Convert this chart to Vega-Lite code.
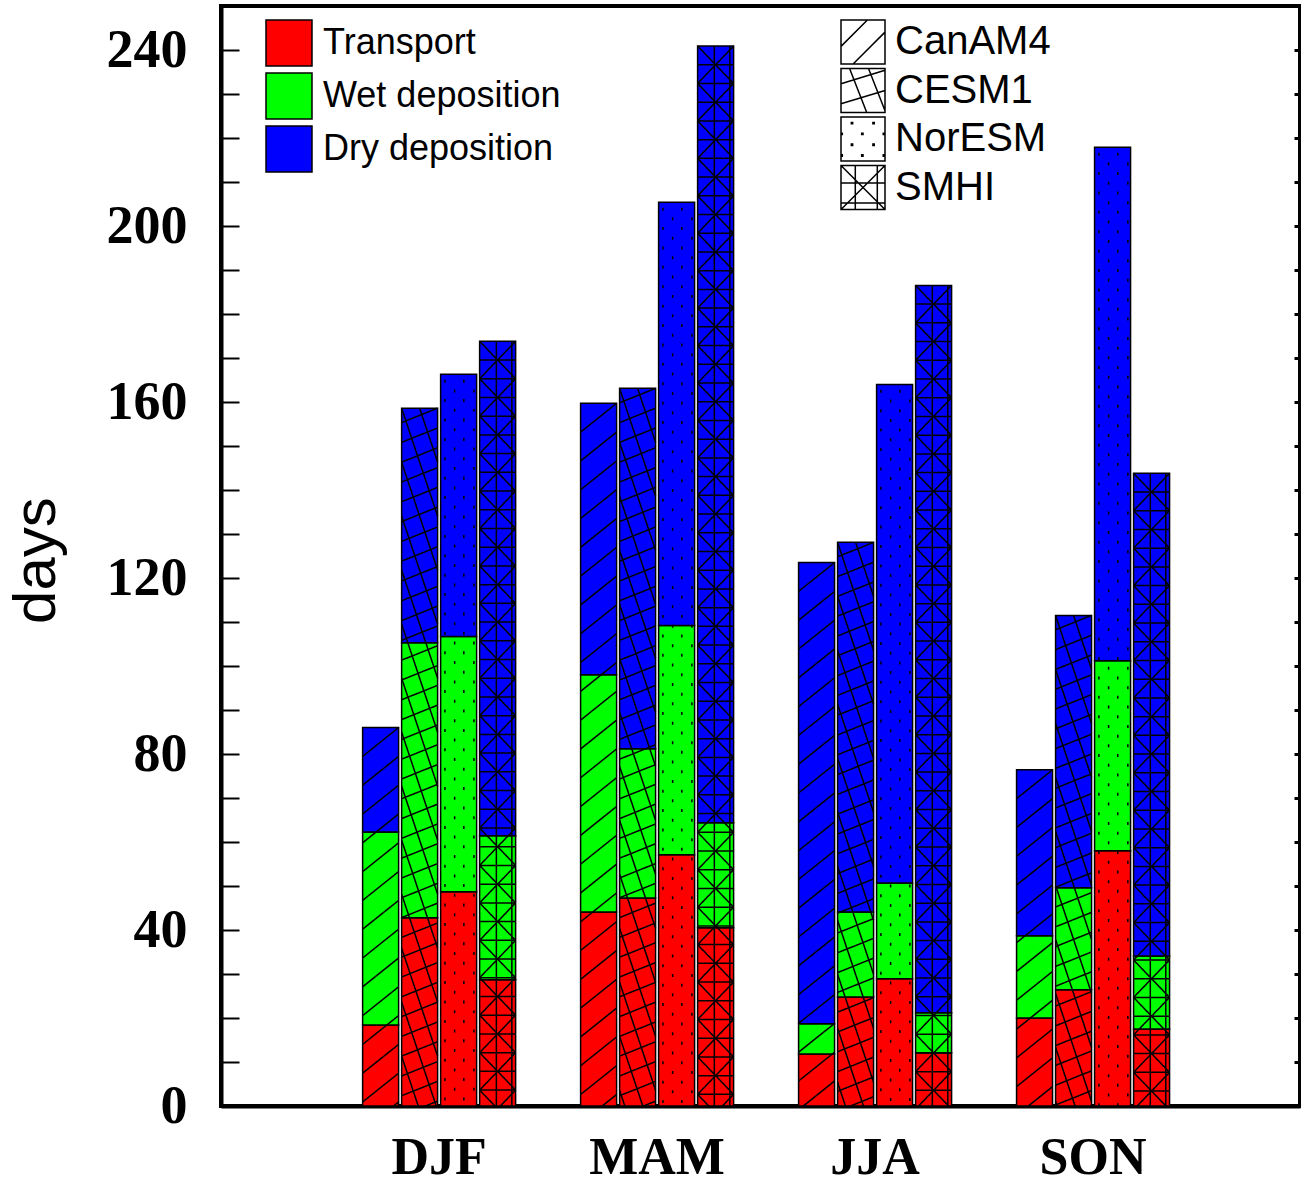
{
  "$schema": "https://vega.github.io/schema/vega-lite/v6.json",
  "autosize": "none",
  "width": 1079,
  "height": 1100,
  "padding": {"left": 221, "top": 6, "right": 1, "bottom": 82},
  "background": "white",
  "config": {
    "view": {"stroke": "black", "strokeWidth": 4},
    "axisX": {
      "title": null,
      "ticks": false,
      "domainColor": "black",
      "domainWidth": 4,
      "labelAngle": 0,
      "labelFont": "Liberation Serif",
      "labelFontWeight": "bold",
      "labelFontSize": 52,
      "labelColor": "black",
      "labelPadding": 26,
      "grid": false
    }
  },
  "data": {
    "values": [
      {"season": "DJF", "model": "CanAM4", "component": "Transport", "level": 1, "days": 18.4},
      {"season": "DJF", "model": "CanAM4", "component": "Wet deposition", "level": 2, "days": 43.9},
      {"season": "DJF", "model": "CanAM4", "component": "Dry deposition", "level": 3, "days": 23.7},
      {"season": "DJF", "model": "CESM1", "component": "Transport", "level": 1, "days": 42.8},
      {"season": "DJF", "model": "CESM1", "component": "Wet deposition", "level": 2, "days": 62.5},
      {"season": "DJF", "model": "CESM1", "component": "Dry deposition", "level": 3, "days": 53.3},
      {"season": "DJF", "model": "NorESM", "component": "Transport", "level": 1, "days": 48.7},
      {"season": "DJF", "model": "NorESM", "component": "Wet deposition", "level": 2, "days": 58.0},
      {"season": "DJF", "model": "NorESM", "component": "Dry deposition", "level": 3, "days": 59.6},
      {"season": "DJF", "model": "SMHI", "component": "Transport", "level": 1, "days": 28.7},
      {"season": "DJF", "model": "SMHI", "component": "Wet deposition", "level": 2, "days": 32.7},
      {"season": "DJF", "model": "SMHI", "component": "Dry deposition", "level": 3, "days": 112.4},
      {"season": "MAM", "model": "CanAM4", "component": "Transport", "level": 1, "days": 44.1},
      {"season": "MAM", "model": "CanAM4", "component": "Wet deposition", "level": 2, "days": 53.9},
      {"season": "MAM", "model": "CanAM4", "component": "Dry deposition", "level": 3, "days": 61.7},
      {"season": "MAM", "model": "CESM1", "component": "Transport", "level": 1, "days": 47.3},
      {"season": "MAM", "model": "CESM1", "component": "Wet deposition", "level": 2, "days": 33.9},
      {"season": "MAM", "model": "CESM1", "component": "Dry deposition", "level": 3, "days": 81.9},
      {"season": "MAM", "model": "NorESM", "component": "Transport", "level": 1, "days": 57.1},
      {"season": "MAM", "model": "NorESM", "component": "Wet deposition", "level": 2, "days": 52.1},
      {"season": "MAM", "model": "NorESM", "component": "Dry deposition", "level": 3, "days": 96.2},
      {"season": "MAM", "model": "SMHI", "component": "Transport", "level": 1, "days": 40.5},
      {"season": "MAM", "model": "SMHI", "component": "Wet deposition", "level": 2, "days": 23.9},
      {"season": "MAM", "model": "SMHI", "component": "Dry deposition", "level": 3, "days": 176.5},
      {"season": "JJA", "model": "CanAM4", "component": "Transport", "level": 1, "days": 11.8},
      {"season": "JJA", "model": "CanAM4", "component": "Wet deposition", "level": 2, "days": 6.9},
      {"season": "JJA", "model": "CanAM4", "component": "Dry deposition", "level": 3, "days": 104.8},
      {"season": "JJA", "model": "CESM1", "component": "Transport", "level": 1, "days": 24.8},
      {"season": "JJA", "model": "CESM1", "component": "Wet deposition", "level": 2, "days": 19.3},
      {"season": "JJA", "model": "CESM1", "component": "Dry deposition", "level": 3, "days": 84.0},
      {"season": "JJA", "model": "NorESM", "component": "Transport", "level": 1, "days": 28.9},
      {"season": "JJA", "model": "NorESM", "component": "Wet deposition", "level": 2, "days": 21.8},
      {"season": "JJA", "model": "NorESM", "component": "Dry deposition", "level": 3, "days": 113.3},
      {"season": "JJA", "model": "SMHI", "component": "Transport", "level": 1, "days": 12.1},
      {"season": "JJA", "model": "SMHI", "component": "Wet deposition", "level": 2, "days": 9.1},
      {"season": "JJA", "model": "SMHI", "component": "Dry deposition", "level": 3, "days": 165.3},
      {"season": "SON", "model": "CanAM4", "component": "Transport", "level": 1, "days": 20.0},
      {"season": "SON", "model": "CanAM4", "component": "Wet deposition", "level": 2, "days": 18.7},
      {"season": "SON", "model": "CanAM4", "component": "Dry deposition", "level": 3, "days": 37.7},
      {"season": "SON", "model": "CESM1", "component": "Transport", "level": 1, "days": 26.4},
      {"season": "SON", "model": "CESM1", "component": "Wet deposition", "level": 2, "days": 23.2},
      {"season": "SON", "model": "CESM1", "component": "Dry deposition", "level": 3, "days": 61.9},
      {"season": "SON", "model": "NorESM", "component": "Transport", "level": 1, "days": 58.0},
      {"season": "SON", "model": "NorESM", "component": "Wet deposition", "level": 2, "days": 43.2},
      {"season": "SON", "model": "NorESM", "component": "Dry deposition", "level": 3, "days": 116.7},
      {"season": "SON", "model": "SMHI", "component": "Transport", "level": 1, "days": 17.5},
      {"season": "SON", "model": "SMHI", "component": "Wet deposition", "level": 2, "days": 16.6},
      {"season": "SON", "model": "SMHI", "component": "Dry deposition", "level": 3, "days": 109.7}
    ]
  },
  "layer": [
    {
      "mark": {"type": "bar", "stroke": "black", "strokeWidth": 1.5},
      "encoding": {
        "x": {"field": "season", "type": "nominal", "sort": ["DJF", "MAM", "JJA", "SON"],
              "scale": {"paddingInner": 0, "paddingOuter": 0.475, "align": 0.527}},
        "xOffset": {"field": "model", "type": "nominal", "sort": ["CanAM4", "CESM1", "NorESM", "SMHI"],
                    "scale": {"paddingInner": 0.077, "paddingOuter": 0.833}},
        "y": {"field": "days", "type": "quantitative", "stack": "zero",
              "scale": {"domain": [0, 250], "nice": false},
              "axis": {
                "title": "days",
                "values": [0, 10, 20, 30, 40, 50, 60, 70, 80, 90, 100, 110, 120, 130, 140, 150, 160, 170, 180, 190, 200, 210, 220, 230, 240],
                "labelExpr": "datum.value % 40 === 0 ? datum.label : ''",
                "grid": false,
                "tickSize": -18,
                "tickWidth": 2,
                "tickColor": "black",
                "domainColor": "black",
                "domainWidth": 4,
                "labelFont": "Liberation Serif",
                "labelFontWeight": "bold",
                "labelFontSize": 54,
                "labelColor": "black",
                "labelPadding": 52,
                "titleFont": "Liberation Sans",
                "titleFontWeight": "normal",
                "titleFontSize": 60,
                "titleColor": "black",
                "titleAngle": -90,
                "titleAlign": "center",
                "titleBaseline": "alphabetic",
                "titleX": -167,
                "titleY": 554
              }},
        "color": {"field": "component", "type": "nominal",
                  "scale": {"domain": ["Transport", "Wet deposition", "Dry deposition"], "range": ["#ff0000", "#00ff00", "#0000ff"]},
                  "legend": {
                    "title": null,
                    "orient": "none",
                    "legendX": 44,
                    "legendY": 13,
                    "symbolType": "square",
                    "symbolSize": 2116,
                    "symbolStrokeColor": "black",
                    "symbolStrokeWidth": 1.5,
                    "symbolOpacity": 1,
                    "labelFont": "Liberation Sans",
                    "labelFontSize": 36,
                    "labelColor": "black",
                    "labelOffset": 10,
                    "rowPadding": 1,
                    "labelLimit": 400
                  }},
        "order": {"field": "level", "type": "quantitative"}
      }
    },
    {
      "mark": {"type": "point", "filled": false, "clip": true, "size": 1296, "stroke": "black", "opacity": 1},
      "encoding": {
        "x": {"field": "season", "type": "nominal", "sort": ["DJF", "MAM", "JJA", "SON"],
              "scale": {"paddingInner": 0, "paddingOuter": 0.475, "align": 0.527}},
        "xOffset": {"field": "model", "type": "nominal", "sort": ["CanAM4", "CESM1", "NorESM", "SMHI"],
                    "scale": {"paddingInner": 0.077, "paddingOuter": 0.833}},
        "y": {"aggregate": "sum", "field": "days", "type": "quantitative",
              "scale": {"domain": [0, 250], "nice": false}, "axis": null},
        "strokeWidth": {"field": "model", "type": "nominal",
                        "scale": {"domain": ["CanAM4", "CESM1", "NorESM", "SMHI"], "range": [1.5, 1.5, 3.5, 2]},
                        "legend": null},
        "strokeDash": {"field": "model", "type": "nominal",
                       "scale": {"domain": ["CanAM4", "CESM1", "NorESM", "SMHI"], "range": [[1, 0], [1, 0], [3, 16.4], [1, 0]]},
                       "legend": null},
        "shape": {"field": "model", "type": "nominal", "legend": null,
                  "scale": {
                    "domain": ["CanAM4", "CESM1", "NorESM", "SMHI"],
                    "range": [
                      "M-1,1.6l2,-1.6m-2,3.2l2,-1.6m-2,3.2l2,-1.6m-2,3.2l2,-1.6m-2,3.2l2,-1.6m-2,3.2l2,-1.6m-2,3.2l2,-1.6m-2,3.2l2,-1.6m-2,3.2l2,-1.6m-2,3.2l2,-1.6m-2,3.2l2,-1.6m-2,3.2l2,-1.6m-2,3.2l2,-1.6m-2,3.2l2,-1.6m-2,3.2l2,-1.6m-2,3.2l2,-1.6m-2,3.2l2,-1.6m-2,3.2l2,-1.6m-2,3.2l2,-1.6m-2,3.2l2,-1.6m-2,3.2l2,-1.6m-2,3.2l2,-1.6m-2,3.2l2,-1.6m-2,3.2l2,-1.6m-2,3.2l2,-1.6m-2,3.2l2,-1.6m-2,3.2l2,-1.6m-2,3.2l2,-1.6m-2,3.2l2,-1.6m-2,3.2l2,-1.6m-2,3.2l2,-1.6m-2,3.2l2,-1.6m-2,3.2l2,-1.6m-2,3.2l2,-1.6m-2,3.2l2,-1.6m-2,3.2l2,-1.6m-2,3.2l2,-1.6m-2,3.2l2,-1.6",
                      "M-1,0.8l2,-0.8m-2,1.9l2,-0.8m-2,1.9l2,-0.8m-2,1.9l2,-0.8m-2,1.9l2,-0.8m-2,1.9l2,-0.8m-2,1.9l2,-0.8m-2,1.9l2,-0.8m-2,1.9l2,-0.8m-2,1.9l2,-0.8m-2,1.9l2,-0.8m-2,1.9l2,-0.8m-2,1.9l2,-0.8m-2,1.9l2,-0.8m-2,1.9l2,-0.8m-2,1.9l2,-0.8m-2,1.9l2,-0.8m-2,1.9l2,-0.8m-2,1.9l2,-0.8m-2,1.9l2,-0.8m-2,1.9l2,-0.8m-2,1.9l2,-0.8m-2,1.9l2,-0.8m-2,1.9l2,-0.8m-2,1.9l2,-0.8m-2,1.9l2,-0.8m-2,1.9l2,-0.8m-2,1.9l2,-0.8m-2,1.9l2,-0.8m-2,1.9l2,-0.8m-2,1.9l2,-0.8m-2,1.9l2,-0.8m-2,1.9l2,-0.8m-2,1.9l2,-0.8m-2,1.9l2,-0.8m-2,1.9l2,-0.8m-2,1.9l2,-0.8m-2,1.9l2,-0.8m-2,1.9l2,-0.8m-2,1.9l2,-0.8m-2,1.9l2,-0.8m-2,1.9l2,-0.8m-2,1.9l2,-0.8m-2,1.9l2,-0.8m-2,1.9l2,-0.8m-2,1.9l2,-0.8m-2,1.9l2,-0.8m-2,1.9l2,-0.8m-2,1.9l2,-0.8m-2,1.9l2,-0.8m-2,1.9l2,-0.8m-2,1.9l2,-0.8m-2,1.9l2,-0.8m-2,1.9l2,-0.8m-2,1.9l2,-0.8M0,0L1,3M-1,0l2,6m-2,-3l2,6m-2,-3l2,6m-2,-3l2,6m-2,-3l2,6m-2,-3l2,6m-2,-3l2,6m-2,-3l2,6m-2,-3l2,6m-2,-3l2,6m-2,-3l2,6m-2,-3l2,6m-2,-3l2,6m-2,-3l2,6m-2,-3l2,6m-2,-3l2,6m-2,-3l2,6m-2,-3l2,6m-2,-3l2,6m-2,-3l2,6m-2,-3l2,6",
                      "M-0.76,0.3V62M0.29,0.3V62M-0.22,0.84V62M0.85,0.84V62",
                      "M-0.07,0V61M0.79,0V61M-1,1.04h2m-2,1.04h2m-2,1.04h2m-2,1.04h2m-2,1.04h2m-2,1.04h2m-2,1.04h2m-2,1.04h2m-2,1.04h2m-2,1.04h2m-2,1.04h2m-2,1.04h2m-2,1.04h2m-2,1.04h2m-2,1.04h2m-2,1.04h2m-2,1.04h2m-2,1.04h2m-2,1.04h2m-2,1.04h2m-2,1.04h2m-2,1.04h2m-2,1.04h2m-2,1.04h2m-2,1.04h2m-2,1.04h2m-2,1.04h2m-2,1.04h2m-2,1.04h2m-2,1.04h2m-2,1.04h2m-2,1.04h2m-2,1.04h2m-2,1.04h2m-2,1.04h2m-2,1.04h2m-2,1.04h2m-2,1.04h2m-2,1.04h2m-2,1.04h2m-2,1.04h2m-2,1.04h2m-2,1.04h2m-2,1.04h2m-2,1.04h2m-2,1.04h2m-2,1.04h2m-2,1.04h2m-2,1.04h2m-2,1.04h2m-2,1.04h2m-2,1.04h2m-2,1.04h2m-2,1.04h2m-2,1.04h2m-2,1.04h2m-2,1.04h2m-2,1.04h2M-1,0l2,2.08m-2,0l2,2.08m-2,0l2,2.08m-2,0l2,2.08m-2,0l2,2.08m-2,0l2,2.08m-2,0l2,2.08m-2,0l2,2.08m-2,0l2,2.08m-2,0l2,2.08m-2,0l2,2.08m-2,0l2,2.08m-2,0l2,2.08m-2,0l2,2.08m-2,0l2,2.08m-2,0l2,2.08m-2,0l2,2.08m-2,0l2,2.08m-2,0l2,2.08m-2,0l2,2.08m-2,0l2,2.08m-2,0l2,2.08m-2,0l2,2.08m-2,0l2,2.08m-2,0l2,2.08m-2,0l2,2.08m-2,0l2,2.08m-2,0l2,2.08m-2,0l2,2.08m-2,0l2,2.08M-1,2.08l2,-2.08m-2,4.16l2,-2.08m-2,4.16l2,-2.08m-2,4.16l2,-2.08m-2,4.16l2,-2.08m-2,4.16l2,-2.08m-2,4.16l2,-2.08m-2,4.16l2,-2.08m-2,4.16l2,-2.08m-2,4.16l2,-2.08m-2,4.16l2,-2.08m-2,4.16l2,-2.08m-2,4.16l2,-2.08m-2,4.16l2,-2.08m-2,4.16l2,-2.08m-2,4.16l2,-2.08m-2,4.16l2,-2.08m-2,4.16l2,-2.08m-2,4.16l2,-2.08m-2,4.16l2,-2.08m-2,4.16l2,-2.08m-2,4.16l2,-2.08m-2,4.16l2,-2.08m-2,4.16l2,-2.08m-2,4.16l2,-2.08m-2,4.16l2,-2.08m-2,4.16l2,-2.08m-2,4.16l2,-2.08m-2,4.16l2,-2.08m-2,4.16l2,-2.08"
                    ]
                  }}
      }
    },
    {
      "mark": {"type": "point", "opacity": 0},
      "encoding": {
        "x": {"field": "season", "type": "nominal", "sort": ["DJF", "MAM", "JJA", "SON"],
              "scale": {"paddingInner": 0, "paddingOuter": 0.475, "align": 0.527}},
        "xOffset": {"field": "model", "type": "nominal", "sort": ["CanAM4", "CESM1", "NorESM", "SMHI"],
                    "scale": {"paddingInner": 0.077, "paddingOuter": 0.833}},
        "y": {"field": "days", "type": "quantitative",
              "scale": {"domain": [0, 250], "nice": false},
              "axis": {
                "orient": "right",
                "title": null,
                "labels": false,
                "values": [10, 20, 30, 40, 50, 60, 70, 80, 90, 100, 110, 120, 130, 140, 150, 160, 170, 180, 190, 200, 210, 220, 230, 240],
                "grid": false,
                "tickSize": -6,
                "tickWidth": 3,
                "tickColor": "black",
                "domainColor": "black",
                "domainWidth": 4
              }},
        "shape": {"field": "model", "type": "nominal",
                  "scale": {
                    "domain": ["CanAM4", "CESM1", "NorESM", "SMHI"],
                    "range": [
                      "M-1,-1H1V1H-1Z M-1,0.2L0.2,-1 M-0.45,1L1,-0.45",
                      "M-1,-1H1V1H-1Z M-0.61,-1L0.17,1 M0.25,-1L1,0.92 M-1,-0.31L1,-0.92 M-1,0.6L1,0",
                      "M-1,-1H1V1H-1Z M-0.53,-0.75h0.06v0.06h-0.06Z M0.45,-0.75h0.06v0.06h-0.06Z M-1,-0.26h0.06v0.06h-0.06Z M-0.06,-0.26h0.06v0.06h-0.06Z M0.92,-0.26h0.06v0.06h-0.06Z M-0.53,0.23h0.06v0.06h-0.06Z M0.45,0.23h0.06v0.06h-0.06Z M-1,0.72h0.06v0.06h-0.06Z M-0.06,0.72h0.06v0.06h-0.06Z M0.92,0.72h0.06v0.06h-0.06Z",
                      "M-1,-1H1V1H-1Z M-0.35,-1V1 M0.65,-1V1 M-1,-0.2H1 M-1,0.7H1 M-1,-1L1,1 M1,-1L-1,1"
                    ]
                  },
                  "legend": {
                    "title": null,
                    "orient": "none",
                    "legendX": 619,
                    "legendY": 13,
                    "symbolSize": 1936,
                    "symbolStrokeColor": "black",
                    "symbolFillColor": "white",
                    "symbolStrokeWidth": 1.5,
                    "symbolOpacity": 1,
                    "labelFont": "Liberation Sans",
                    "labelFontSize": 40,
                    "labelColor": "black",
                    "labelOffset": 9,
                    "rowPadding": -1.5,
                    "labelLimit": 400,
                    "encode": {
                      "symbols": {
                        "update": {
                          "size": {"value": 1936},
                          "opacity": {"value": 1},
                          "fill": {"value": "white"},
                          "fillOpacity": {"value": 1},
                          "stroke": {"value": "black"},
                          "strokeOpacity": {"value": 1},
                          "strokeWidth": {"value": 1.5}
                        }
                      }
                    }
                  }}
      }
    }
  ],
  "resolve": {"scale": {"y": "independent", "shape": "independent", "strokeWidth": "independent", "strokeDash": "independent"}, "axis": {"y": "independent"}}
}
